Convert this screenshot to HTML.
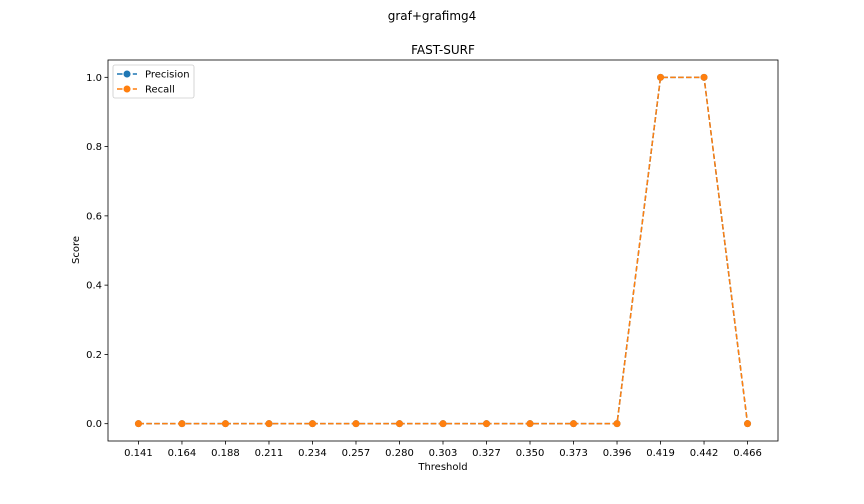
<!DOCTYPE html>
<html><head><meta charset="utf-8"><style>
body{margin:0;background:#fff;}
svg{display:block;font-family:"DejaVu Sans","Liberation Sans",sans-serif;}
</style></head><body>
<svg id="chart" width="864" height="504">
<text x="432" y="20" text-anchor="middle" font-size="12">graf+grafimg4</text>
<text x="443" y="54" text-anchor="middle" font-size="12">FAST-SURF</text>
<g id="marks"></g>
<rect x="108" y="60" width="670" height="381" fill="none" stroke="#000" stroke-width="0.8"/>
<text x="443" y="470" text-anchor="middle" font-size="10">Threshold</text>
<text transform="translate(79,250) rotate(-90)" text-anchor="middle" font-size="10">Score</text>
<g>
<rect x="113" y="65" width="81" height="33" rx="2" fill="#fff" fill-opacity="0.8" stroke="#ccc" stroke-width="0.8"/>
<g>
<line x1="117" y1="74" x2="137" y2="74" stroke="#1f77b4" stroke-width="1.5" stroke-dasharray="5.5,2.4"/>
<circle cx="127" cy="74" r="3.5" fill="#1f77b4"/>
<text x="145" y="77.5" font-size="10">Precision</text></g>
<g>
<line x1="117" y1="89" x2="137" y2="89" stroke="#ff7f0e" stroke-width="1.5" stroke-dasharray="5.5,2.4"/>
<circle cx="127" cy="89" r="3.5" fill="#ff7f0e"/>
<text x="145" y="92.5" font-size="10">Recall</text></g>
</g>
</svg>
<script>
const categories=["0.141","0.164","0.188","0.211","0.234","0.257","0.280","0.303","0.327","0.350","0.373","0.396","0.419","0.442","0.466"];
const precision=[0,0,0,0,0,0,0,0,0,0,0,0,1,1,0];
const recall=[0,0,0,0,0,0,0,0,0,0,0,0,1,1,0];
const yTicks=[0,0.2,0.4,0.6,0.8,1.0];
const yTickLabels=["0.0","0.2","0.4","0.6","0.8","1.0"];

const L=108,R=778,T=60,B=441,NS="http://www.w3.org/2000/svg";
const n=categories.length;
const pad=(n-1)*0.05;
function xs(i){return L+(i+pad)/(n-1+2*pad)*(R-L);}
const yMin=-0.05,yMax=1.05;
function ys(v){return B-(v-yMin)/(yMax-yMin)*(B-T);}
const g=document.getElementById('marks');
function mk(tag,attrs,parent){const e=document.createElementNS(NS,tag);for(const k in attrs)e.setAttribute(k,attrs[k]);(parent||g).appendChild(e);return e;}
categories.forEach((c,i)=>{
  const x=xs(i);
  const t=mk('line',{x1:x,x2:x,y1:B,y2:B+3.5,stroke:'#000','stroke-width':0.8});
  
  
  const l=mk('text',{x:x,y:B+15,'text-anchor':'middle','font-size':10});
  l.textContent=c;
  
  
});
yTicks.forEach((v,i)=>{
  const y=ys(v);
  const t=mk('line',{x1:L-3.5,x2:L,y1:y,y2:y,stroke:'#000','stroke-width':0.8});
  
  
  const l=mk('text',{x:L-6,y:y+3.5,'text-anchor':'end','font-size':10});
  l.textContent=yTickLabels[i];
  
  
});
function series(vals,color,name){
  const sg=mk('g',{});
  
  
  const p=mk('polyline',{points:vals.map((v,i)=>xs(i)+','+ys(v)).join(' '),fill:'none',stroke:color,'stroke-width':1.5,'stroke-dasharray':'5.5,2.4'},sg);
  
  
  vals.forEach((v,i)=>{
    const c=mk('circle',{cx:xs(i),cy:ys(v),r:3.5,fill:color},sg);
    
    
  });
}
series(precision,'#1f77b4','precision');
series(recall,'#ff7f0e','recall');
</script>
</body></html>
